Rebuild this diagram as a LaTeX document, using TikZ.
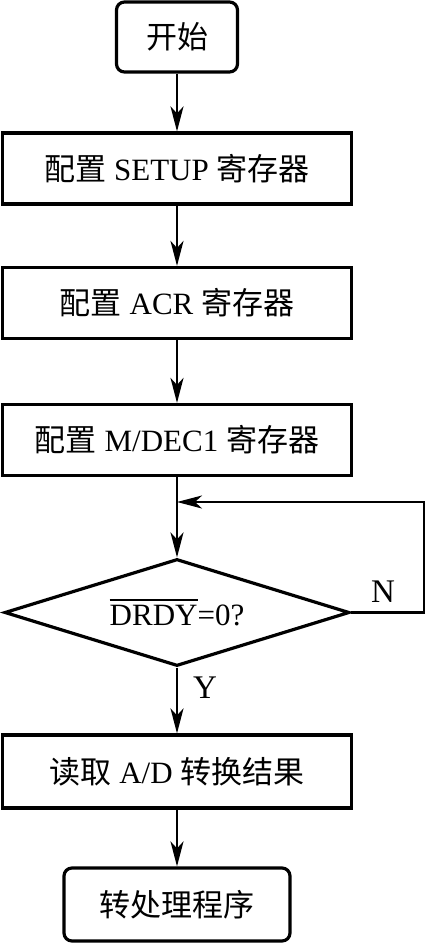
\documentclass[tikz,border=0pt]{standalone}
\usepackage{fontspec}
\setmainfont{Liberation Serif}
\newfontfamily\cjk{Noto Sans CJK SC}
\usepackage{tikz}
\usetikzlibrary{positioning,arrows.meta,shapes.geometric}
\newcommand\barsig[1]{\setbox0\hbox{#1}\rlap{\rule[\dimexpr\ht0+4pt\relax]{\wd0}{1.8pt}}\box0}

\begin{document}
\begin{tikzpicture}[x=1pt, y=1pt,
  base/.style={draw, line width=3.2pt, align=center, inner sep=0pt,
               font=\fontsize{31}{35}\selectfont},
  box/.style={base, minimum width=349pt, minimum height=71pt},
  term/.style={base, rounded corners=8pt, minimum height=70pt},
  dec/.style={base, diamond, aspect=3.2, minimum width=345pt, minimum height=107pt},
  arr/.style={-{Stealth[length=25pt, width=13pt, inset=7pt]}, line width=2.2pt},
  lab/.style={font=\fontsize{33}{37}\selectfont}]
  \useasboundingbox (0,0) rectangle (426,-943);
  % column at x = 177, rows in px
  \node[term, minimum width=121pt] (start) at (177,-37)    {{\cjk 开始}};
  \node[box]  (setup)  at (177,-168.5) {{\cjk 配置} SETUP {\cjk 寄存器}};
  \node[box]  (acr)    at (177,-303)   {{\cjk 配置} ACR {\cjk 寄存器}};
  \node[box]  (mdec)   at (177,-440)   {{\cjk 配置} M/DEC1 {\cjk 寄存器}};
  \node[dec]  (drdy)   at (177,-612.5) {\barsig{DRDY}=0?};
  \node[box, minimum height=73pt] (read) at (177,-771.5) {{\cjk 读取} A/D {\cjk 转换结果}};
  \node[term, minimum width=226pt, minimum height=73pt] (jump) at (177,-904.5) {{\cjk 转处理程序}};
  \coordinate (join)  at (177,-502);
  \coordinate (right) at (424,-502);
  \draw[arr] (start) -- (setup);
  \draw[arr] (setup) -- (acr);
  \draw[arr] (acr) -- (mdec);
  \draw[arr] (mdec) -- (drdy);
  \draw[arr] (drdy.east) -| (right) -- (join);
  \draw[arr] (drdy) -- (read);
  \draw[arr] (read) -- (jump);
  \node[lab] (n) at (383,-592) {N};
  \node[lab] (y) at (205,-688) {Y};
\end{tikzpicture}
\end{document}
